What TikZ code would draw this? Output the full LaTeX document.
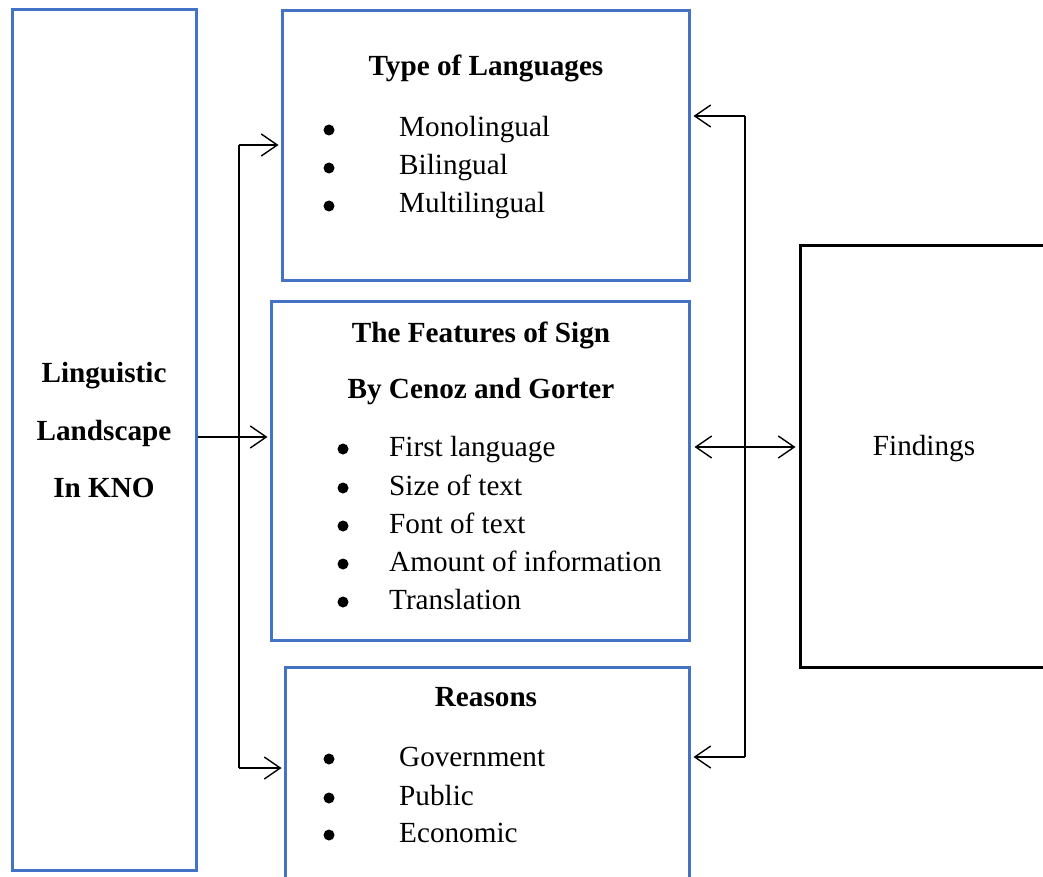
\documentclass[tikz,border=0pt]{standalone}
\usepackage{fontspec}
\setmainfont{Liberation Serif}
\usetikzlibrary{arrows.meta}
\definecolor{boxblue}{HTML}{4472C4}
\newcommand{\fsz}{\fontsize{29.2}{38}\selectfont}
\tikzset{
  bluebox/.style={draw=boxblue, line width=3pt, rectangle, inner sep=0pt},
  blackbox/.style={draw=black, line width=3pt, rectangle, inner sep=0pt},
  txt/.style={anchor=base, inner sep=0pt, font=\fsz},
  btxt/.style={anchor=base, inner sep=0pt, font=\fsz\bfseries},
  itm/.style={anchor=base west, inner sep=0pt, font=\fsz},
  bul/.style={circle, fill=black, inner sep=0pt, minimum size=11pt, yshift=7pt},
  conn/.style={line width=1.4pt, draw=black},
  arr/.style={conn, -{Straight Barb[length=16pt,width=22pt,line width=1.4pt]}},
  darr/.style={conn, {Straight Barb[length=16pt,width=22pt,line width=1.4pt]}-{Straight Barb[length=16pt,width=22pt,line width=1.4pt]}},
}
\begin{document}
\begin{tikzpicture}[x=1pt,y=-1pt]
\useasboundingbox (0,0) rectangle (1043,877);
\clip (0,0) rectangle (1043,877);
\fill[white] (0,0) rectangle (1043,877);
% boxes
\node[bluebox, minimum width=184pt, minimum height=860pt] (left) at (104,440) {};
\node[bluebox, minimum width=407pt, minimum height=269pt] (top) at (485.5,145.5) {};
\node[bluebox, minimum width=418pt, minimum height=339pt] (mid) at (480,470.5) {};
\node[bluebox, minimum width=404pt, minimum height=240pt] (bot) at (487,787) {};
\node[blackbox, minimum width=260pt, minimum height=421pt] (find) at (930,456.5) {};
% left text
\node[btxt] (l1) at (104,382) {Linguistic};
\node[btxt] (l2) at (104,440) {Landscape};
\node[btxt] (l3) at (104,497) {In KNO};
% top box
\node[btxt] (t0) at (486,76) {Type of Languages};
\node[bul] (tb1) at (329,137) {};
\node[itm] (t1) at (399,137) {Monolingual};
\node[bul] (tb2) at (329,175) {};
\node[itm] (t2) at (399,175) {Bilingual};
\node[bul] (tb3) at (329,213) {};
\node[itm] (t3) at (399,213) {Multilingual};
% middle box
\node[btxt] (m0) at (481,342) {The Features of Sign};
\node[btxt] (m00) at (481,398) {By Cenoz and Gorter};
\node[bul] (mb1) at (343,456) {};
\node[itm] (m1) at (389,456) {First language};
\node[bul] (mb2) at (343,495) {};
\node[itm] (m2) at (389,495) {Size of text};
\node[bul] (mb3) at (343,533) {};
\node[itm] (m3) at (389,533) {Font of text};
\node[bul] (mb4) at (343,571) {};
\node[itm] (m4) at (389,571) {Amount of information};
\node[bul] (mb5) at (343,609) {};
\node[itm] (m5) at (389,609) {Translation};
% bottom box
\node[btxt] (b0) at (486,706) {Reasons};
\node[bul] (bb1) at (329,766) {};
\node[itm] (b1) at (399,766) {Government};
\node[bul] (bb2) at (329,805) {};
\node[itm] (b2) at (399,805) {Public};
\node[bul] (bb3) at (329,842) {};
\node[itm] (b3) at (399,842) {Economic};
% findings
\node[txt] (f) at (924,455) {Findings};
% connectors left
\coordinate (jt) at (239,145);
\coordinate (jm) at (239,437);
\coordinate (jb) at (239,768);
\draw[conn] (jt) -- (jb);
\draw[arr] (jt) -- ([xshift=-2pt]top.west |- jt);
\draw[arr] (left.east |- jm) -- ([xshift=-2pt]mid.west |- jm);
\draw[arr] (jb) -- ([xshift=-2pt]bot.west |- jb);
% connectors right
\coordinate (kt) at (745,116);
\coordinate (km) at (745,447);
\coordinate (kb) at (745,757);
\draw[conn] (kt) -- (kb);
\draw[arr] (kt) -- ([xshift=3pt]top.east |- kt);
\draw[arr] (kb) -- ([xshift=3pt]bot.east |- kb);
\draw[darr] ([xshift=4pt]mid.east |- km) -- ([xshift=-3pt]find.west |- km);
\end{tikzpicture}
\end{document}
